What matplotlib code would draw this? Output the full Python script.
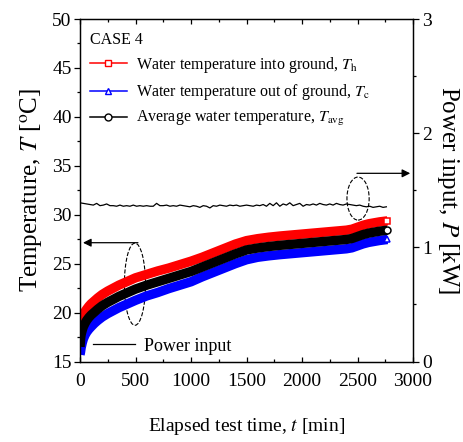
import numpy as np
import matplotlib
matplotlib.use('Agg')
import matplotlib.pyplot as plt
from matplotlib.lines import Line2D
from matplotlib.patches import Ellipse
from matplotlib.ticker import MultipleLocator

plt.rcParams['font.family'] = 'Liberation Serif'
plt.rcParams['mathtext.fontset'] = 'stix'

# elapsed time [min] and water temperatures [degC]
t_temp = [0, 5, 10, 20, 30, 45, 60, 80, 100, 130, 160, 200, 250, 300, 350,
          400, 450, 500, 600, 700, 800, 900, 1000, 1100, 1200, 1300, 1400,
          1500, 1600, 1700, 1800, 1900, 2000, 2100, 2200, 2300, 2400, 2450,
          2500, 2550, 2600, 2650, 2700, 2770]
T_h = [18.0, 18.7, 19.1, 19.5, 19.8, 20.1, 20.35, 20.65, 20.9, 21.2, 21.5,
       21.85, 22.2, 22.5, 22.8, 23.05, 23.3, 23.55, 23.9, 24.25, 24.55, 24.9,
       25.25, 25.65, 26.1, 26.55, 27.0, 27.35, 27.55, 27.7, 27.82, 27.92, 28.02,
       28.12, 28.22, 28.32, 28.42, 28.52, 28.72, 28.92, 29.07, 29.17, 29.27,
       29.37]
T_avg = [16.5, 17.3, 17.75, 18.2, 18.55, 18.9, 19.2, 19.5, 19.75, 20.05,
         20.35, 20.7, 21.05, 21.35, 21.65, 21.9, 22.15, 22.4, 22.8, 23.15,
         23.5, 23.85, 24.2, 24.65, 25.1, 25.55, 26.0, 26.4, 26.6, 26.75,
         26.87, 26.97, 27.07, 27.17, 27.27, 27.37, 27.47, 27.57, 27.77, 27.97,
         28.12, 28.22, 28.32, 28.42]
T_c = [15.7, 16.0, 16.4, 16.9, 17.3, 17.7, 18.0, 18.3, 18.55, 18.9, 19.2,
       19.55, 19.9, 20.2, 20.5, 20.75, 21.0, 21.25, 21.7, 22.05, 22.45, 22.8,
       23.15, 23.65, 24.1, 24.55, 25.0, 25.4, 25.65, 25.8, 25.92, 26.02, 26.12,
       26.22, 26.32, 26.42, 26.52, 26.62, 26.82, 27.02, 27.17, 27.27, 27.37,
       27.47]

# power input [kW], one reading every 30 min
t_power = np.arange(0, 2761, 30)
P = [1.39, 1.385, 1.38,
     1.375, 1.37, 1.385, 1.365, 1.37, 1.38, 1.365,
     1.365, 1.36, 1.37, 1.36, 1.365, 1.36, 1.37, 1.36, 1.365, 1.36, 1.365,
     1.36, 1.36,
     1.385, 1.365,
     1.365, 1.37, 1.36, 1.365, 1.36, 1.37, 1.365, 1.36, 1.355, 1.365, 1.36,
     1.35, 1.365, 1.36, 1.345,
     1.365, 1.36, 1.37, 1.365, 1.36, 1.37, 1.365, 1.37, 1.36, 1.365, 1.37,
     1.365, 1.36, 1.37, 1.365, 1.375, 1.36,
     1.385, 1.365, 1.39, 1.36, 1.38, 1.37, 1.39, 1.365, 1.375, 1.385, 1.36,
     1.375, 1.37,
     1.38, 1.37, 1.385, 1.375, 1.37, 1.38, 1.37, 1.385, 1.375, 1.37, 1.38,
     1.375, 1.37,
     1.365, 1.37, 1.36, 1.355, 1.36, 1.35, 1.355, 1.36, 1.35, 1.355]

series = [
    (T_h, 'red', 's', r'Water temperature into ground, $T_\mathrm{h}$'),
    (T_c, 'blue', '^', r'Water temperature out of ground, $T_\mathrm{c}$'),
    (T_avg, 'black', 'o', r'Average water temperature, $T_\mathrm{avg}$'),
]

fig = plt.figure(figsize=(4.63, 4.42), dpi=100)
ax = fig.add_axes([80 / 463, 1 - 361.5 / 442, 333 / 463, 342.5 / 442])
ax2 = ax.twinx()

handles = []
for vals, col, mk, lab in series:
    ax.plot(t_temp, vals, color=col, lw=6.8, solid_capstyle='butt',
            solid_joinstyle='round')
    ax.plot(t_temp[-1], vals[-1], ls='none', marker=mk, ms=5, mfc='white',
            mec=col, mew=1.1)
    handles.append(Line2D([], [], color=col, lw=1.1, marker=mk, ms=5,
                          mfc='white', mec=col, mew=1.0, label=lab))

ax2.plot(t_power, P, color='black', lw=0.9)

ax.set_xlim(0, 3000)
ax.set_ylim(15, 50)
ax2.set_ylim(0, 3)

ax.xaxis.set_major_locator(MultipleLocator(500))
ax.xaxis.set_minor_locator(MultipleLocator(250))
ax.yaxis.set_major_locator(MultipleLocator(5))
ax.yaxis.set_minor_locator(MultipleLocator(2.5))
ax2.yaxis.set_major_locator(MultipleLocator(1))
ax2.yaxis.set_minor_locator(MultipleLocator(0.5))

ax.tick_params(axis='x', which='both', direction='in', top=True, labelsize=14,
               pad=8)
ax.tick_params(axis='x', which='major', length=3.5, width=0.9)
ax.tick_params(axis='x', which='minor', length=2.5, width=0.9)
ax.tick_params(axis='y', which='both', direction='out', labelsize=14, pad=1.5)
ax.tick_params(axis='y', which='major', length=4.5, width=0.9)
ax.tick_params(axis='y', which='minor', length=2.5, width=0.9)
ax2.tick_params(axis='y', which='both', direction='out', labelsize=14, pad=2)
ax2.tick_params(axis='y', which='major', length=4.5, width=0.9)
ax2.tick_params(axis='y', which='minor', length=2.5, width=0.9)
for a in (ax, ax2):
    for s in a.spines.values():
        s.set_linewidth(0.9)

ax.set_xlabel(r'Elapsed test time, $t$ [min]', fontsize=14)
ax.xaxis.set_label_coords(0.5, -0.16)
ax.xaxis.label.set_va('top')
ax.set_ylabel(r'Temperature, $T$ [$^\mathrm{o}$C]', fontsize=18)
ax.yaxis.set_label_coords(-0.105, 0.5)
ax2.set_ylabel(r'Power input, $P$ [kW]', fontsize=18, rotation=270,
               va='bottom')
ax2.yaxis.set_label_coords(1.066, 0.5)

ax.text(0.03, 0.938, 'CASE 4', transform=ax.transAxes, fontsize=11.5,
        ha='left', va='center')
ax.legend(handles=handles, loc='upper left', bbox_to_anchor=(0.03, 0.895),
          frameon=False, fontsize=11.5, handlelength=2.3, handletextpad=0.55,
          labelspacing=0.45, borderpad=0, borderaxespad=0)
ax2.legend(handles=[Line2D([], [], color='black', lw=0.9, label='Power input')],
           loc='lower left', bbox_to_anchor=(0.04, 0.02), frameon=False,
           fontsize=13, handlelength=2.3, handletextpad=0.5, borderpad=0,
           borderaxespad=0)

# dashed ellipses with arrows pointing to the matching axis
ax.add_patch(Ellipse((495, 22.9), 190, 8.4, fill=False, ls='--', lw=0.8,
                     color='black'))
ax.annotate('', xy=(27, 27.14), xytext=(522, 27.14),
            arrowprops=dict(arrowstyle='-|>', color='black', lw=0.9,
                            mutation_scale=12, shrinkA=0, shrinkB=0))
ax.add_patch(Ellipse((2505, 31.65), 200, 4.4, fill=False, ls='--', lw=0.8,
                     color='black'))
ax.annotate('', xy=(2975, 34.23), xytext=(2495, 34.23),
            arrowprops=dict(arrowstyle='-|>', color='black', lw=0.9,
                            mutation_scale=12, shrinkA=0, shrinkB=0))

fig.savefig('out.png', dpi=100)
